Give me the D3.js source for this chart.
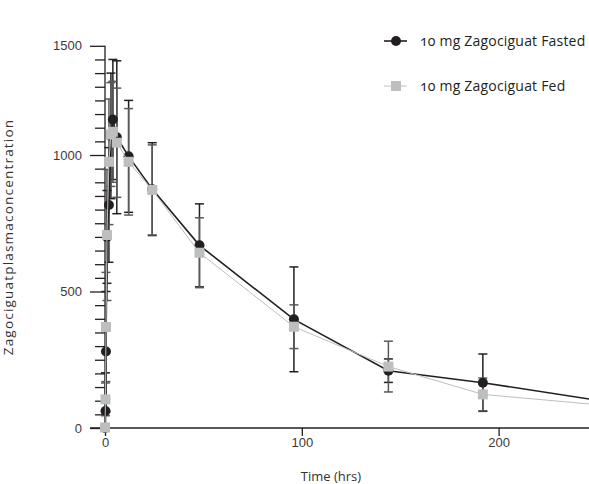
<!DOCTYPE html>
<html>
<head>
<meta charset="utf-8" />
<title>Zagociguat PK</title>
<style>
html, body { margin: 0; padding: 0; background: #fff; }
svg { display: block; font-family: "Open Sans", "Liberation Sans", sans-serif; }
.legend text { font-feature-settings: "onum"; }
</style>
</head>
<body>
<script src="https://d3js.org/d3.v7.min.js"></script>
<script>
// ---------------------------------------------------------
// Data
const times = [0, 0.25, 0.5, 1, 2, 3, 4, 6, 12, 24, 48, 96, 144, 192, 288]

const fastedMean = [0, 62, 280, 700, 817, 1070, 1130, 1065, 995, 875, 669, 398, 210, 166, 60]
const fastedSd   = [0, 140, 220, 170, 210, 230, 220, 280, 205, 170, 152, 192, 43, 105, 40]

const fedMean = [2, 105, 370, 707, 975, 1075, 1085, 1045, 975, 872, 642, 371, 225, 123, 61]
const fedSd   = [0, 60, 200, 240, 230, 190, 185, 200, 195, 165, 128, 80, 93, 60, 30]

const xTicks = [0, 100, 200]
// the printed axis stops one minor step short of 1500 but is labelled 1500 at its top
const yTickAt = [0, 500, 1000, 1400]
const yTickLabels = ['0', '500', '1000', '1500']
const yMinor = d3.range(0, 1401, 50)

const seriesNames = ['10 mg Zagociguat Fasted', '10 mg Zagociguat Fed']

// ---------------------------------------------------------
const w = 589
const h = 484

const svg = d3.select('body').append('svg')
  .attr('width', w)
  .attr('height', h)

const x = d3.scaleLinear().domain([0, 250]).range([105, 597])
const y = d3.scaleLinear().domain([0, 1500]).range([428, 18.5])

const ink = '#231f20'
const fedCol = '#bcbec0'
const fedBar = '#58595b'

svg.append('defs').append('clipPath').attr('id', 'plot')
  .append('rect').attr('x', 0).attr('y', 0).attr('width', w).attr('height', 440)

// axes
const xAxis = svg.append('g')
  .attr('transform', 'translate(0,' + y(0) + ')')
  .call(d3.axisBottom(x).tickValues(xTicks).tickSize(8).tickPadding(2).tickFormat(d3.format('d')))
xAxis.select('.domain').attr('d', 'M90,0H' + w)

const yAxis = svg.append('g')
  .attr('transform', 'translate(' + x(0) + ',0)')
  .call(d3.axisLeft(y).tickValues(yMinor).tickSize(10).tickFormat(''))
yAxis.select('.domain').remove()
yAxis.selectAll('.tick').filter(d => yTickAt.includes(d)).remove()

const yMajor = svg.append('g')
  .attr('transform', 'translate(' + x(0) + ',0)')
  .call(d3.axisLeft(y).tickValues(yTickAt).tickSize(15).tickPadding(8)
    .tickFormat((d, i) => yTickLabels[i]))
yMajor.select('.domain').attr('d', 'M0,' + y(1400) + 'V' + y(0))

svg.selectAll('.domain, .tick line').attr('stroke', ink).attr('stroke-width', 1.3)
svg.selectAll('.tick text').attr('fill', '#3a3a3a').style('font-size', '13px')

// axis titles
svg.append('text')
  .attr('x', 331).attr('y', 481)
  .attr('text-anchor', 'middle')
  .attr('fill', '#333').style('font-size', '13px')
  .text('Time (hrs)')

svg.append('text')
  .attr('transform', 'translate(13,237) rotate(-90)')
  .attr('text-anchor', 'middle')
  .attr('fill', '#333').style('font-size', '13.5px').style('letter-spacing', '1.2px')
  .text('Zagociguatplasmaconcentration')

// ---------------------------------------------------------
const plot = svg.append('g').attr('clip-path', 'url(#plot)')

function rows(means, sds) {
  return times.map((t, i) => ({ t: t, m: means[i], sd: sds[i] }))
}
const fasted = rows(fastedMean, fastedSd)
const fed = rows(fedMean, fedSd)

const line = d3.line().x(d => x(d.t)).y(d => y(d.m))

function errorBars(data, color) {
  const g = plot.append('g')
  const bars = g.selectAll('g').data(data.filter(d => d.sd > 0)).enter().append('g')
    .attr('stroke', color).attr('stroke-width', 1.5)
  bars.append('line')
    .attr('x1', d => x(d.t)).attr('x2', d => x(d.t))
    .attr('y1', d => y(d.m + d.sd)).attr('y2', d => y(Math.max(0, d.m - d.sd)))
  bars.append('line')
    .attr('x1', d => x(d.t) - 4.5).attr('x2', d => x(d.t) + 4.5)
    .attr('y1', d => y(d.m + d.sd)).attr('y2', d => y(d.m + d.sd))
  bars.append('line')
    .attr('x1', d => x(d.t) - 4.5).attr('x2', d => x(d.t) + 4.5)
    .attr('y1', d => y(Math.max(0, d.m - d.sd))).attr('y2', d => y(Math.max(0, d.m - d.sd)))
}

errorBars(fasted, ink)
errorBars(fed, fedBar)

plot.append('path').datum(fasted)
  .attr('d', line).attr('fill', 'none').attr('stroke', ink).attr('stroke-width', 1.6)
plot.selectAll('circle.fasted').data(fasted).enter().append('circle')
  .attr('class', 'fasted')
  .attr('cx', d => x(d.t)).attr('cy', d => y(d.m)).attr('r', 5)
  .attr('fill', ink)

plot.append('path').datum(fed)
  .attr('d', line).attr('fill', 'none').attr('stroke', fedCol).attr('stroke-width', 1)
plot.selectAll('rect.fed').data(fed).enter().append('rect')
  .attr('class', 'fed')
  .attr('x', d => x(d.t) - 5).attr('y', d => y(d.m) - 5)
  .attr('width', 10).attr('height', 10)
  .attr('fill', fedCol)

// ---------------------------------------------------------
// legend
const legend = svg.append('g').attr('class', 'legend')
const items = legend.selectAll('g').data(seriesNames).enter().append('g')
  .attr('transform', (d, i) => 'translate(384,' + (41 + i * 45) + ')')
items.append('line')
  .attr('x1', 0).attr('x2', 23)
  .attr('stroke', (d, i) => i === 0 ? ink : fedCol)
  .attr('stroke-width', (d, i) => i === 0 ? 1.6 : 1)
items.filter((d, i) => i === 0).append('circle')
  .attr('cx', 12).attr('r', 5).attr('fill', ink)
items.filter((d, i) => i === 1).append('rect')
  .attr('x', 7).attr('y', -5).attr('width', 10).attr('height', 10).attr('fill', fedCol)
items.append('text')
  .attr('x', 36).attr('dy', '0.35em')
  .attr('fill', '#231f20').style('font-size', '14px').style('letter-spacing', '0.2px')
  .text(d => d)
</script>
</body>
</html>
